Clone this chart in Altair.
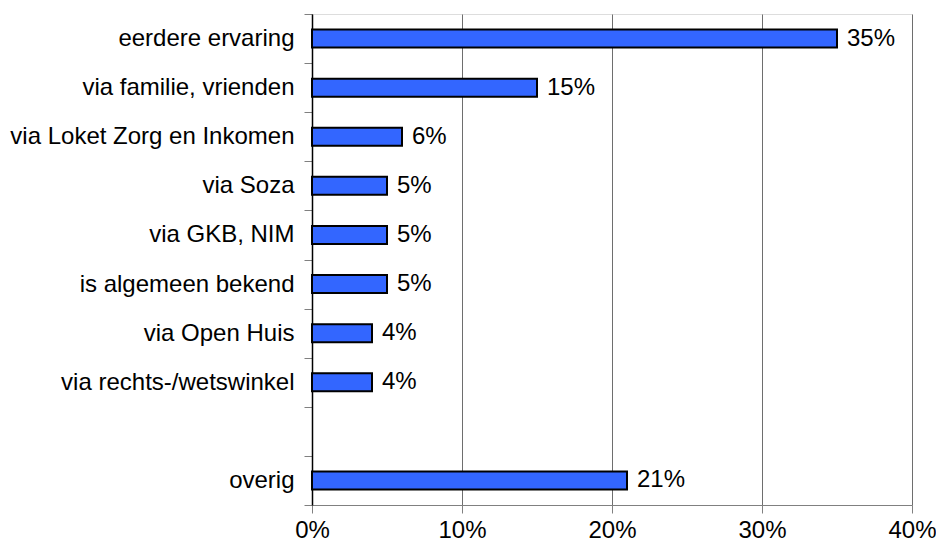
import altair as alt
import pandas as pd

categories = [
    "eerdere ervaring",
    "via familie, vrienden",
    "via Loket Zorg en Inkomen",
    "via Soza",
    "via GKB, NIM",
    "is algemeen bekend",
    "via Open Huis",
    "via rechts-/wetswinkel",
    "overig",
]
values = [35, 15, 6, 5, 5, 5, 4, 4, 21]

# domain with an empty slot before "overig"
domain = categories[:8] + [" "] + categories[8:]

df = pd.DataFrame({"cat": categories, "val": values})
df["lbl"] = df["val"].astype(str) + "%"

FONT = "Liberation Sans"
FS = 24

y_enc = alt.Y(
    "cat:N",
    sort=domain,
    scale=alt.Scale(domain=domain, paddingInner=0, paddingOuter=0),
    axis=alt.Axis(
        title=None,
        tickBand="extent",
        tickSize=8,
        tickColor="#808080",
        tickWidth=1,
        domainColor="#000000",
        domainWidth=1.5,
        labelFont=FONT,
        labelFontSize=FS,
        labelColor="#000000",
        labelPadding=10,
        labelLimit=400,
        grid=False,
    ),
)

x_enc = alt.X(
    "val:Q",
    scale=alt.Scale(domain=[0, 40], nice=False),
    axis=alt.Axis(
        title=None,
        values=[0, 10, 20, 30, 40],
        labelExpr="datum.value + '%'",
        labelFlush=False,
        tickSize=8,
        tickColor="#808080",
        domainColor="#808080",
        grid=True,
        gridColor="#6e6e6e",
        gridWidth=1,
        labelFont=FONT,
        labelFontSize=FS,
        labelColor="#000000",
        labelPadding=5,
    ),
)

bars = alt.Chart(df).mark_bar(
    height=18, color="#3366FF", stroke="#000000", strokeWidth=2
).encode(x=x_enc, y=y_enc)

text = alt.Chart(df).mark_text(
    align="left", baseline="middle", dx=10, font=FONT, fontSize=FS, color="#000000"
).encode(
    x=alt.X("val:Q", scale=alt.Scale(domain=[0, 40], nice=False)),
    y=alt.Y("cat:N", sort=domain, scale=alt.Scale(domain=domain)),
    text="lbl:N",
)

chart = (
    alt.layer(bars, text)
    .properties(
        width=600,
        height=491,
        autosize=alt.AutoSizeParams(type="none"),
        padding={"left": 304, "top": 6, "right": 24, "bottom": 38},
    )
    .configure_view(stroke="#808080", strokeWidth=1)
    .configure(background="white")
)

chart.save("out.html", embed_options={"renderer": "svg", "actions": False})
